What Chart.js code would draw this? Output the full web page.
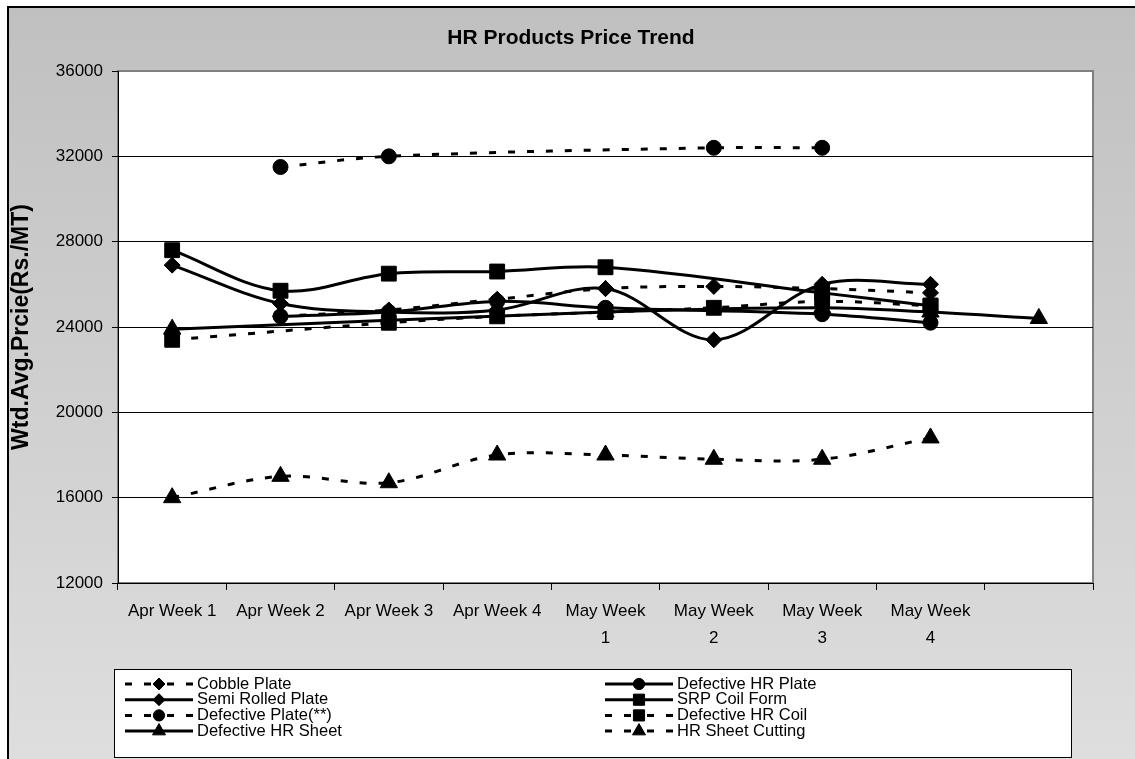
<!DOCTYPE html>
<html>
<head>
<meta charset="utf-8">
<title>HR Products Price Trend</title>
<script src="https://cdn.jsdelivr.net/npm/chart.js@4.4.1/dist/chart.umd.min.js"></script>
<style>
  html, body { margin: 0; padding: 0; background: #fff; }
  canvas { display: block; }
</style>
</head>
<body>
<canvas id="chart" width="1135" height="759"></canvas>
<script>
// weeks on the x axis (last slot has no label)
var weeks = ['Apr Week 1', 'Apr Week 2', 'Apr Week 3', 'Apr Week 4',
  ['May Week', '1'], ['May Week', '2'], ['May Week', '3'], ['May Week', '4'], ''];

// y axis ticks
var yTicks = [12000, 16000, 20000, 24000, 28000, 32000, 36000];

// prices, Rs./MT (null = no value that week)
var cobblePlate      = [null, 24500, 24800, 25300, 25800, 25900, 25800, 25600, null];
var defectiveHrPlate = [null, 24500, 24700, 25200, 24900, null, 24600, 24200, null];
var semiRolledPlate  = [26900, 25100, 24700, 24800, 25800, 23400, 26000, 26000, null];
var srpCoilForm      = [27600, 25700, 26500, 26600, 26800, null, 25600, 25000, null];
var defectivePlate   = [null, 31500, 32000, null, null, 32400, 32400, null, null];
var defectiveHrCoil  = [23400, null, 24200, 24500, 24700, 24900, 25200, 25000, null];
var defectiveHrSheet = [23900, null, null, null, 24700, null, 24900, 24700, 24400];
var hrSheetCutting   = [16000, 17000, 16700, 18000, 18000, 17800, 17800, 18800, null];

var chartTitle = 'HR Products Price Trend';

Chart.defaults.font.family = '"Liberation Sans", Arial, sans-serif';
Chart.defaults.color = '#000';

var DASH = [7, 12];

function series(label, data, style, radius, dashed) {
  return {
    label: label,
    data: data,
    borderColor: '#000',
    backgroundColor: '#000',
    borderWidth: 3,
    borderDash: dashed ? DASH : [],
    pointStyle: style,
    pointRadius: radius,
    pointBorderWidth: 1,
    pointBackgroundColor: '#000',
    pointBorderColor: '#000',
    tension: 0.35,
    spanGaps: true,
    fill: false
  };
}

// grey chart area, white plot area, title
var frame = {
  id: 'frame',
  beforeDraw: function (chart) {
    var ctx = chart.ctx, a = chart.chartArea;
    ctx.save();
    ctx.fillStyle = '#fff';
    ctx.fillRect(0, 0, chart.width, chart.height);
    var g = ctx.createLinearGradient(0, 7, 0, chart.height);
    g.addColorStop(0, '#c0c0c0');
    g.addColorStop(1, '#dedede');
    ctx.fillStyle = g;
    ctx.fillRect(8, 7, chart.width - 8, chart.height - 7);
    ctx.strokeStyle = '#000';
    ctx.lineWidth = 2;
    ctx.beginPath();
    ctx.moveTo(8, chart.height);
    ctx.lineTo(8, 7);
    ctx.lineTo(chart.width, 7);
    ctx.stroke();
    ctx.fillStyle = '#fff';
    ctx.fillRect(a.left, a.top, a.right - a.left, a.bottom - a.top);
    ctx.strokeStyle = '#808080';
    ctx.lineWidth = 2;
    ctx.strokeRect(a.left, a.top, a.right - a.left, a.bottom - a.top);
    ctx.fillStyle = '#000';
    ctx.font = 'bold 21px "Liberation Sans", Arial, sans-serif';
    ctx.textAlign = 'center';
    ctx.textBaseline = 'middle';
    ctx.fillText(chartTitle, 571, 38);
    ctx.restore();
  }
};

// two-column legend box under the axis
var legendBox = {
  id: 'legendBox',
  afterDraw: function (chart) {
    var ctx = chart.ctx;
    ctx.save();
    ctx.fillStyle = '#fff';
    ctx.fillRect(114.5, 669.5, 957, 88);
    ctx.strokeStyle = '#000';
    ctx.lineWidth = 1;
    ctx.strokeRect(114.5, 669.5, 957, 88);
    ctx.font = '16.5px "Liberation Sans", Arial, sans-serif';
    ctx.textBaseline = 'middle';
    chart.data.datasets.forEach(function (ds, i) {
      var col = i % 2, row = Math.floor(i / 2);
      var x0 = col ? 605 : 125, x1 = x0 + 68, xc = x0 + 34;
      var y = 684 + row * 15.7;
      ctx.strokeStyle = '#000';
      ctx.lineWidth = 3;
      ctx.setLineDash(ds.borderDash);
      ctx.beginPath(); ctx.moveTo(x0, y); ctx.lineTo(xc, y); ctx.stroke();
      ctx.beginPath(); ctx.moveTo(x1, y); ctx.lineTo(xc, y); ctx.stroke();
      ctx.setLineDash([]);
      ctx.fillStyle = '#000';
      ctx.lineWidth = 1;
      Chart.helpers.drawPoint(ctx, {
        pointStyle: ds.pointStyle, radius: ds.pointRadius * 0.75, borderWidth: 1, rotation: 0
      }, xc, y);
      ctx.fillStyle = '#000';
      ctx.fillText(ds.label, x1 + 4, y);
    });
    ctx.restore();
  }
};

new Chart(document.getElementById('chart'), {
  type: 'line',
  data: {
    labels: weeks,
    datasets: [
      series('Cobble Plate', cobblePlate, 'rectRot', 8, true),
      series('Defective HR Plate', defectiveHrPlate, 'circle', 7.5, false),
      series('Semi Rolled Plate', semiRolledPlate, 'rectRot', 8, false),
      series('SRP Coil Form', srpCoilForm, 'rect', 10.5, false),
      series('Defective Plate(**)', defectivePlate, 'circle', 7.5, true),
      series('Defective HR Coil', defectiveHrCoil, 'rect', 10.5, true),
      series('Defective HR Sheet', defectiveHrSheet, 'triangle', 10, false),
      series('HR Sheet Cutting', hrSheetCutting, 'triangle', 10, true)
    ]
  },
  options: {
    responsive: false,
    animation: false,
    events: [],
    layout: { padding: { left: 8, top: 71, right: 42, bottom: 90 } },
    plugins: {
      legend: { display: false },
      tooltip: { enabled: false },
      title: { display: false }
    },
    scales: {
      x: {
        offset: true,
        grid: {
          display: true, drawOnChartArea: false, drawTicks: true,
          tickLength: 7, offset: true, color: '#000'
        },
        border: { color: '#000', width: 1 },
        ticks: {
          color: '#000', font: { size: 17, lineHeight: 1.6 }, padding: 8,
          autoSkip: false, maxRotation: 0, minRotation: 0
        },
        afterFit: function (s) { s.height = 86; }
      },
      y: {
        min: 12000,
        max: 36000,
        afterBuildTicks: function (s) {
          s.ticks = yTicks.map(function (v) { return { value: v }; });
        },
        ticks: {
          color: '#000', font: { size: 17 }, padding: 9,
          callback: function (v) { return String(v); }
        },
        grid: {
          color: function (c) { return c.tick && c.tick.value === 36000 ? '#808080' : '#000'; },
          tickColor: '#000',
          tickLength: 6
        },
        border: { color: '#000', width: 1 },
        title: {
          display: true,
          text: 'Wtd.Avg.Prcie(Rs./MT)',
          color: '#000',
          font: { size: 23, weight: 'bold' },
          padding: { top: 0, bottom: 0 }
        },
        afterFit: function (s) { s.width = 110; }
      }
    }
  },
  plugins: [frame, legendBox]
});
</script>
</body>
</html>
